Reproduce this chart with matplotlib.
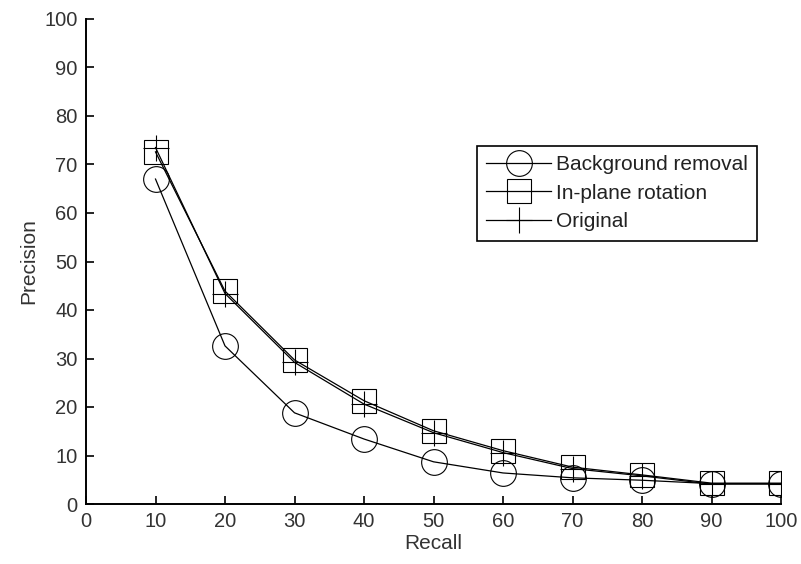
import matplotlib
matplotlib.use("Agg")
import matplotlib.pyplot as plt

recall = [10, 20, 30, 40, 50, 60, 70, 80, 90, 100]
background_removal = [67.0, 32.6, 18.8, 13.4, 8.7, 6.4, 5.4, 4.9, 4.2, 4.2]
inplane_rotation = [72.6, 43.9, 29.7, 21.3, 15.1, 11.0, 7.6, 6.0, 4.3, 4.3]
original = [73.5, 43.4, 29.2, 20.6, 14.7, 10.6, 7.3, 5.8, 4.1, 4.1]
labels = ["Background removal", "In-plane rotation", "Original"]
xticks = [0, 10, 20, 30, 40, 50, 60, 70, 80, 90, 100]
yticks = [0, 10, 20, 30, 40, 50, 60, 70, 80, 90, 100]

plt.rcParams['font.family'] = ['Liberation Sans', 'DejaVu Sans']

fig = plt.figure(figsize=(8.01, 5.64), dpi=100)
ax = fig.add_axes([86/801, 1-504/564, (781-86)/801, (504-19)/564])

lw = 0.9
mew = 0.8
ax.plot(recall, background_removal, color='black', lw=lw, marker='o', ms=18.5,
        mfc='none', mec='black', mew=mew, label=labels[0])
ax.plot(recall, inplane_rotation, color='black', lw=lw, marker='s', ms=16.8,
        mfc='none', mec='black', mew=mew, label=labels[1])
ax.plot(recall, original, color='black', lw=lw, marker='+', ms=18.7,
        mec='black', mew=mew, label=labels[2])

ax.set_xlim(0, 100)
ax.set_ylim(0, 100)
ax.set_xticks(xticks)
ax.set_yticks(yticks)
ax.spines['top'].set_visible(False)
ax.spines['right'].set_visible(False)
for s in ['left', 'bottom']:
    ax.spines[s].set_linewidth(1.4)
ax.tick_params(direction='in', length=6, width=1.2, labelsize=14.5, pad=6,
               colors='black', labelcolor='#333333')
ax.set_xlabel("Recall", fontsize=15, color='#333333', labelpad=2)
ax.set_ylabel("Precision", fontsize=15, color='#333333', labelpad=4)

leg = ax.legend(loc='upper left', bbox_to_anchor=(477/801, 1-146/564),
                bbox_transform=fig.transFigure, fontsize=15, numpoints=1,
                handlelength=3.1, handletextpad=0.25, borderpad=0.45,
                labelspacing=0.45, borderaxespad=0, fancybox=False,
                framealpha=1, edgecolor='black')
leg.get_frame().set_linewidth(1.2)
for t in leg.get_texts():
    t.set_color('#222222')

fig.savefig("out.png", dpi=100)
